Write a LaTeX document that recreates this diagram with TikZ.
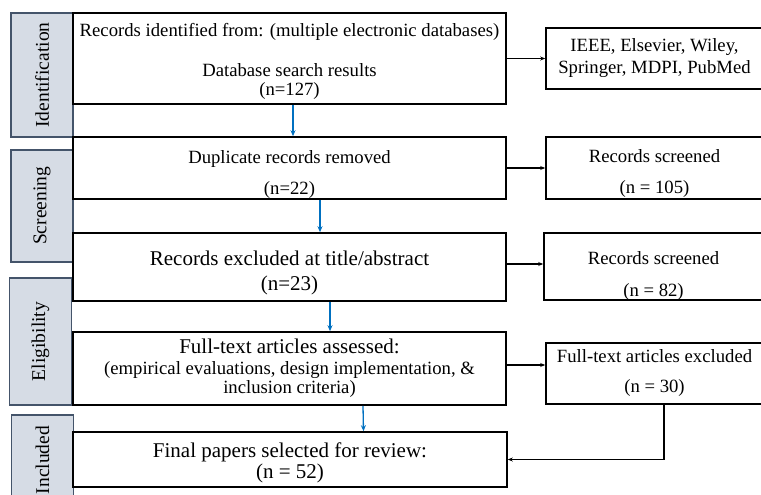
\documentclass[tikz,border=0pt]{standalone}
\usepackage{fontspec}
\setmainfont{Liberation Serif}
\usepackage{xcolor}
\usepackage{tikz}
\usetikzlibrary{
  arrows.meta
}
\definecolor{stagefill}{HTML}{D6DCE5}
\definecolor{stageline}{HTML}{44546A}
\definecolor{flowblue}{HTML}{0070C0}
\newcommand{\padtop}[1]{\rule{0pt}{#1}}

\begin{document}
\begin{tikzpicture}[x=1pt, y=-1pt,
    every node/.style={rectangle, align=center, inner sep=0pt, font=\fontsize{18.7}{19}\selectfont},
    stage/.style={draw=stageline, fill=stagefill, line width=1.6pt, rotate=90, minimum height=62pt, font=\fontsize{19.5}{21}\selectfont},
    box/.style={draw, line width=1.6pt, minimum width=433pt},
    side/.style={draw, line width=1.6pt, minimum width=217pt},
    big/.style={font=\fontsize{21}{21}\selectfont},
    down/.style={draw=flowblue, line width=1.3pt, -{Stealth[length=6pt,width=5pt]}},
    across/.style={draw, line width=1.4pt, -{Stealth[length=5pt,width=4pt]}}]
\useasboundingbox (0,0) rectangle (761,495);
\clip (0,0) rectangle (761,495);

% stages on the left
\node [stage, minimum width=124pt] (ident) at (42,75) {Identification};
\node [stage, minimum width=112pt] (screen) at (42,206) {Screening};
\node [stage, minimum width=127pt] (elig) at (40.5,341.5) {Eligibility};
\node [stage, minimum width=90pt] (incl) at (42.5,460) {Included};

% main column
\node [box, minimum height=91pt] (records) at (289.5,58.5)
  {\padtop{19pt}Records identified from: (multiple electronic databases)\\[21pt]
   Database search results\\(n=127)};
\node [box, minimum height=62pt] (dup) at (289.5,168)
  {\padtop{25pt}Duplicate records removed\\[12pt] (n=22)};
\node [box, big, minimum height=68pt] (excl) at (289.5,267)
  {\padtop{26.5pt}Records excluded at title/abstract\\[4pt] (n=23)};
\node [box, minimum height=73pt] (full) at (289.5,368.5)
  {{\fontsize{21}{21}\selectfont Full-text articles assessed:}\\[2pt]
   (empirical evaluations, design implementation, \&\\ inclusion criteria)};
\node [box, big, minimum height=55pt, minimum width=434pt] (final) at (290,459.5)
  {\padtop{20.5pt}Final papers selected for review:\\ (n = 52)};

% side column
\node [side, minimum height=61pt] (dbs) at (654.5,58.5)
  {IEEE, Elsevier, Wiley,\\[3pt] Springer, MDPI, PubMed};
\node [side, minimum height=62pt] (scr1) at (654.5,168)
  {\padtop{23pt}Records screened\\[12pt] (n = 105)};
\node [side, minimum height=67pt, minimum width=219pt] (scr2) at (653.5,266.5)
  {\padtop{31pt}Records screened\\[13pt] (n = 82)};
\node [side, minimum height=61pt] (ftx) at (654.5,373.5)
  {Full-text articles excluded\\[11pt] (n = 30)};

% blue flow
\draw [down] ([xshift=3.5pt]records.south) -- ([xshift=3.5pt]dup.north);
\draw [down] ([xshift=30.5pt]dup.south) -- ([xshift=30.5pt]excl.north);
\draw [down] ([xshift=40.5pt]excl.south) -- ([xshift=40.5pt]full.north);
\draw [down] ([xshift=73.5pt]full.south) -- ([xshift=73.5pt]final.north);

% side arrows
\draw [across] (records.east) -- (dbs.west);
\draw [across] (dup.east) -- (scr1.west);
\draw [across] ([yshift=3pt]excl.east) -- ([yshift=3pt]excl.east -| scr2.west);
\draw [across] ([yshift=3.5pt]full.east) -- ([yshift=3.5pt]full.east -| ftx.west);
\draw [across] ([xshift=9.5pt]ftx.south) |- (final.east);
\end{tikzpicture}
\end{document}
